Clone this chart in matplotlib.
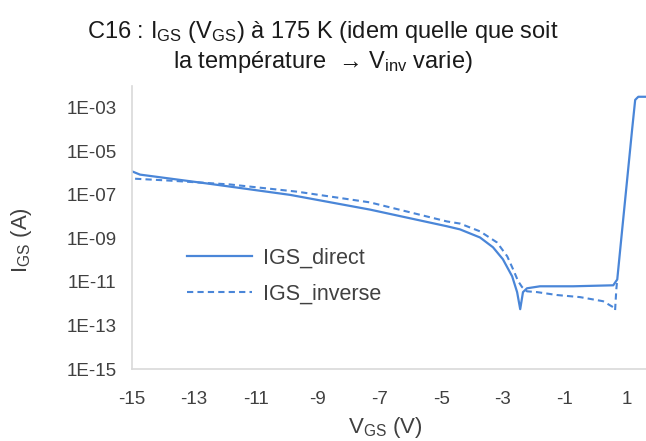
import numpy as np
import matplotlib
matplotlib.use("Agg")
import matplotlib.pyplot as plt
from matplotlib.ticker import FixedLocator, FuncFormatter, NullLocator

plt.rcParams['font.family'] = ['Liberation Sans', 'DejaVu Sans']
plt.rcParams['mathtext.fontset'] = 'custom'
plt.rcParams['mathtext.rm'] = 'Liberation Sans'
plt.rcParams['mathtext.it'] = 'Liberation Sans:italic'

# gate current, forward sweep
vgs_direct = [-15.0, -14.74, -12.48, -9.89, -7.30, -4.81, -4.39, -3.74, -3.32,
              -3.00, -2.70, -2.54, -2.44, -2.35, -2.22, -1.80, -0.73, 0.57,
              0.70, 0.86, 1.02, 1.18, 1.28, 1.38, 1.65]
igs_direct = [1.2e-6, 8.5e-7, 3.2e-7, 1.0e-7, 2.1e-8, 3.6e-9, 2.6e-9, 1.1e-9, 3.9e-10,
              1.1e-10, 1.8e-11, 3.4e-12, 5.6e-13, 3.4e-12, 5.1e-12, 6.3e-12, 6.3e-12, 7.0e-12,
              1.3e-11, 2.6e-9, 5.0e-7, 9.8e-5, 2.3e-3, 3.2e-3, 3.2e-3]

# gate current, reverse sweep
vgs_inverse = [-14.90, -13.77, -11.83, -9.66, -7.30, -4.81, -4.39, -3.74, -3.19,
               -2.86, -2.67, -2.51, -2.38, -2.22, -1.89, -1.25, -0.50, 0.24,
               0.57, 0.63, 0.67, 0.70]
igs_inverse = [5.5e-7, 4.5e-7, 3.0e-7, 1.4e-7, 4.5e-8, 6.0e-9, 4.8e-9, 2.1e-9, 6.5e-10,
               1.5e-10, 3.8e-11, 1.1e-11, 5.8e-12, 3.7e-12, 3.4e-12, 2.5e-12, 2.0e-12, 1.3e-12,
               6.9e-13, 5.0e-13, 4.6e-12, 1.3e-11]

y_ticks = [1e-15, 1e-13, 1e-11, 1e-9, 1e-7, 1e-5, 1e-3]
x_ticks = [-15, -13, -11, -9, -7, -5, -3, -1, 1]

blue = '#4A86D8'
grey = '#D9D9D9'
txt = '#404040'

fig = plt.figure(figsize=(6.46, 4.41), dpi=100)
ax = fig.add_axes([132 / 646, 72 / 441, 514 / 646, 283 / 441])

ax.plot(vgs_direct, igs_direct, color=blue, lw=1.6, label='IGS_direct',
        solid_joinstyle='round')
ax.plot(vgs_inverse, igs_inverse, color=blue, lw=1.5, dashes=(3, 2),
        label='IGS_inverse')

ax.set_yscale('log')
ax.set_ylim(1e-15, 1e-2)
ax.set_xlim(-15, 1.63)
ax.yaxis.set_major_locator(FixedLocator(y_ticks))
ax.yaxis.set_minor_locator(NullLocator())
ax.yaxis.set_major_formatter(FuncFormatter(lambda v, p: '1E-%02d' % round(-np.log10(v))))
ax.xaxis.set_major_locator(FixedLocator(x_ticks))
ax.xaxis.set_major_formatter(FuncFormatter(lambda v, p: '%d' % v))

for side in ['top', 'right']:
    ax.spines[side].set_visible(False)
for side in ['left', 'bottom']:
    ax.spines[side].set_color(grey)
    ax.spines[side].set_linewidth(1.2)
ax.tick_params(axis='both', length=0, labelsize=13.5, colors=txt)
ax.tick_params(axis='x', pad=16)
ax.tick_params(axis='y', pad=11)

leg = ax.legend(loc='upper left', bbox_to_anchor=(0.107, 0.43), frameon=False,
                fontsize=15.5, handlelength=3.0, handletextpad=0.55,
                labelspacing=0.7, borderpad=0, borderaxespad=0)
for t in leg.get_texts():
    t.set_color(txt)

fig.text(0.5, 1 - 32 / 441, r'C16 : I$_{\rm GS}$ (V$_{\rm GS}$) à 175 K (idem quelle que soit',
         ha='center', va='center', fontsize=17, color='#1a1a1a')
fig.text(0.5, 1 - 62 / 441, 'la température  \u2192 V$_{\\rm inv}$ varie)',
         ha='center', va='center', fontsize=17, color='#1a1a1a')
fig.text(22 / 646, 1 - 240 / 441, r'I$_{\rm GS}$ (A)', rotation=90,
         ha='center', va='center', fontsize=16, color=txt)
fig.text(385 / 646, 1 - 428 / 441, r'V$_{\rm GS}$ (V)',
         ha='center', va='center', fontsize=16, color=txt)

fig.savefig('out.png', dpi=100)
